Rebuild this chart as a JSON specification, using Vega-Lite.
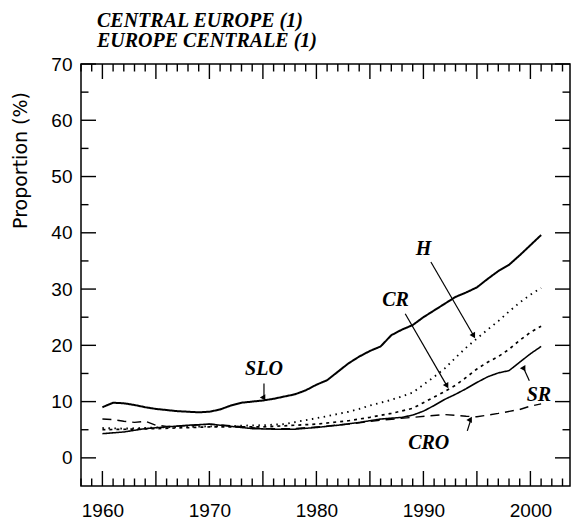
{
  "$schema": "https://vega.github.io/schema/vega-lite/v6.json",
  "width": 489,
  "height": 422,
  "autosize": {"type": "none"},
  "padding": {"left": 81, "top": 64, "right": 1, "bottom": 35},
  "background": "white",
  "title": {
    "text": ["CENTRAL EUROPE (1)", "EUROPE CENTRALE (1)"],
    "anchor": "start",
    "frame": "group",
    "dx": 16,
    "offset": 4,
    "font": "Liberation Serif",
    "fontStyle": "italic",
    "fontWeight": "bold",
    "fontSize": 20,
    "lineHeight": 20,
    "color": "black"
  },
  "config": {
    "view": {"stroke": "black", "strokeWidth": 1.5},
    "axis": {
      "domain": false,
      "ticks": true,
      "tickSize": 0,
      "labelColor": "black",
      "titleColor": "black",
      "grid": false,
      "labelFont": "Liberation Sans",
      "labelFontSize": 19,
      "labelOverlap": false,
      "labelBound": false,
      "labelFlush": false
    }
  },
  "datasets": {
    "series": [
      {"country": "SLO", "year": 1960, "value": 9.0},
      {"country": "SLO", "year": 1961, "value": 9.8},
      {"country": "SLO", "year": 1962, "value": 9.7},
      {"country": "SLO", "year": 1963, "value": 9.4},
      {"country": "SLO", "year": 1964, "value": 9.0},
      {"country": "SLO", "year": 1965, "value": 8.7},
      {"country": "SLO", "year": 1966, "value": 8.5},
      {"country": "SLO", "year": 1967, "value": 8.3},
      {"country": "SLO", "year": 1968, "value": 8.2},
      {"country": "SLO", "year": 1969, "value": 8.1},
      {"country": "SLO", "year": 1970, "value": 8.2},
      {"country": "SLO", "year": 1971, "value": 8.6},
      {"country": "SLO", "year": 1972, "value": 9.3},
      {"country": "SLO", "year": 1973, "value": 9.8},
      {"country": "SLO", "year": 1974, "value": 10.0},
      {"country": "SLO", "year": 1975, "value": 10.2},
      {"country": "SLO", "year": 1976, "value": 10.5},
      {"country": "SLO", "year": 1977, "value": 10.9},
      {"country": "SLO", "year": 1978, "value": 11.3},
      {"country": "SLO", "year": 1979, "value": 12.0},
      {"country": "SLO", "year": 1980, "value": 13.0},
      {"country": "SLO", "year": 1981, "value": 13.8},
      {"country": "SLO", "year": 1982, "value": 15.3},
      {"country": "SLO", "year": 1983, "value": 16.8},
      {"country": "SLO", "year": 1984, "value": 18.0},
      {"country": "SLO", "year": 1985, "value": 19.0},
      {"country": "SLO", "year": 1986, "value": 19.8},
      {"country": "SLO", "year": 1987, "value": 21.8},
      {"country": "SLO", "year": 1988, "value": 22.8},
      {"country": "SLO", "year": 1989, "value": 23.6},
      {"country": "SLO", "year": 1990, "value": 25.0},
      {"country": "SLO", "year": 1991, "value": 26.2},
      {"country": "SLO", "year": 1992, "value": 27.4},
      {"country": "SLO", "year": 1993, "value": 28.6},
      {"country": "SLO", "year": 1994, "value": 29.4},
      {"country": "SLO", "year": 1995, "value": 30.3},
      {"country": "SLO", "year": 1996, "value": 31.8},
      {"country": "SLO", "year": 1997, "value": 33.2},
      {"country": "SLO", "year": 1998, "value": 34.3},
      {"country": "SLO", "year": 1999, "value": 36.0},
      {"country": "SLO", "year": 2000, "value": 37.8},
      {"country": "SLO", "year": 2001, "value": 39.6},

      {"country": "H", "year": 1960, "value": 5.3},
      {"country": "H", "year": 1962, "value": 5.2},
      {"country": "H", "year": 1965, "value": 5.4},
      {"country": "H", "year": 1970, "value": 5.6},
      {"country": "H", "year": 1975, "value": 5.8},
      {"country": "H", "year": 1977, "value": 6.0},
      {"country": "H", "year": 1979, "value": 6.7},
      {"country": "H", "year": 1981, "value": 7.4},
      {"country": "H", "year": 1983, "value": 8.2},
      {"country": "H", "year": 1984, "value": 8.7},
      {"country": "H", "year": 1985, "value": 9.3},
      {"country": "H", "year": 1987, "value": 10.3},
      {"country": "H", "year": 1989, "value": 11.6},
      {"country": "H", "year": 1990, "value": 13.0},
      {"country": "H", "year": 1991, "value": 14.4},
      {"country": "H", "year": 1992, "value": 15.9},
      {"country": "H", "year": 1993, "value": 17.8},
      {"country": "H", "year": 1994, "value": 19.6},
      {"country": "H", "year": 1995, "value": 21.2},
      {"country": "H", "year": 1996, "value": 22.8},
      {"country": "H", "year": 1997, "value": 24.3},
      {"country": "H", "year": 1998, "value": 26.0},
      {"country": "H", "year": 1999, "value": 27.6},
      {"country": "H", "year": 2000, "value": 29.0},
      {"country": "H", "year": 2001, "value": 30.2},

      {"country": "CR", "year": 1960, "value": 5.0},
      {"country": "CR", "year": 1965, "value": 5.2},
      {"country": "CR", "year": 1970, "value": 5.5},
      {"country": "CR", "year": 1975, "value": 5.5},
      {"country": "CR", "year": 1980, "value": 6.0},
      {"country": "CR", "year": 1983, "value": 6.6},
      {"country": "CR", "year": 1985, "value": 7.2},
      {"country": "CR", "year": 1987, "value": 7.9},
      {"country": "CR", "year": 1989, "value": 8.8},
      {"country": "CR", "year": 1990, "value": 9.8},
      {"country": "CR", "year": 1991, "value": 10.8},
      {"country": "CR", "year": 1992, "value": 11.8},
      {"country": "CR", "year": 1993, "value": 12.9},
      {"country": "CR", "year": 1994, "value": 14.3},
      {"country": "CR", "year": 1995, "value": 15.8},
      {"country": "CR", "year": 1996, "value": 17.0},
      {"country": "CR", "year": 1997, "value": 18.0},
      {"country": "CR", "year": 1998, "value": 19.3},
      {"country": "CR", "year": 1999, "value": 20.9},
      {"country": "CR", "year": 2000, "value": 22.3},
      {"country": "CR", "year": 2001, "value": 23.4},

      {"country": "SR", "year": 1960, "value": 4.3},
      {"country": "SR", "year": 1962, "value": 4.6},
      {"country": "SR", "year": 1964, "value": 5.2},
      {"country": "SR", "year": 1966, "value": 5.5},
      {"country": "SR", "year": 1968, "value": 5.8},
      {"country": "SR", "year": 1970, "value": 6.0},
      {"country": "SR", "year": 1972, "value": 5.6},
      {"country": "SR", "year": 1974, "value": 5.2},
      {"country": "SR", "year": 1976, "value": 5.1},
      {"country": "SR", "year": 1978, "value": 5.1},
      {"country": "SR", "year": 1980, "value": 5.4},
      {"country": "SR", "year": 1982, "value": 5.8},
      {"country": "SR", "year": 1984, "value": 6.3},
      {"country": "SR", "year": 1986, "value": 6.9},
      {"country": "SR", "year": 1988, "value": 7.2},
      {"country": "SR", "year": 1989, "value": 7.6},
      {"country": "SR", "year": 1990, "value": 8.3},
      {"country": "SR", "year": 1991, "value": 9.3},
      {"country": "SR", "year": 1992, "value": 10.4},
      {"country": "SR", "year": 1993, "value": 11.3},
      {"country": "SR", "year": 1994, "value": 12.3},
      {"country": "SR", "year": 1995, "value": 13.4},
      {"country": "SR", "year": 1996, "value": 14.4},
      {"country": "SR", "year": 1997, "value": 15.1},
      {"country": "SR", "year": 1998, "value": 15.5},
      {"country": "SR", "year": 1999, "value": 17.0},
      {"country": "SR", "year": 2000, "value": 18.5},
      {"country": "SR", "year": 2001, "value": 19.8},

      {"country": "CRO", "year": 1960, "value": 6.9},
      {"country": "CRO", "year": 1961, "value": 6.8},
      {"country": "CRO", "year": 1962, "value": 6.5},
      {"country": "CRO", "year": 1963, "value": 6.3},
      {"country": "CRO", "year": 1964, "value": 6.5},
      {"country": "CRO", "year": 1965, "value": 5.8},
      {"country": "CRO", "year": 1966, "value": 5.6},
      {"country": "CRO", "year": 1968, "value": 5.7},
      {"country": "CRO", "year": 1970, "value": 6.0},
      {"country": "CRO", "year": 1972, "value": 5.7},
      {"country": "CRO", "year": 1975, "value": 5.2},
      {"country": "CRO", "year": 1978, "value": 5.2},
      {"country": "CRO", "year": 1980, "value": 5.5},
      {"country": "CRO", "year": 1983, "value": 6.0},
      {"country": "CRO", "year": 1986, "value": 6.7},
      {"country": "CRO", "year": 1989, "value": 7.2},
      {"country": "CRO", "year": 1992, "value": 7.7},
      {"country": "CRO", "year": 1994, "value": 7.4},
      {"country": "CRO", "year": 1995, "value": 7.3},
      {"country": "CRO", "year": 1997, "value": 7.9},
      {"country": "CRO", "year": 1999, "value": 8.6},
      {"country": "CRO", "year": 2000, "value": 9.2},
      {"country": "CRO", "year": 2001, "value": 9.6}
    ],
    "labels": [
      {"label": "H", "x": 1990.0, "y": 37.2},
      {"label": "CR", "x": 1987.4, "y": 28.0},
      {"label": "SLO", "x": 1975.1, "y": 15.8},
      {"label": "SR", "x": 2000.8, "y": 11.1},
      {"label": "CRO", "x": 1990.5, "y": 2.7}
    ],
    "arrows": [
      {"label": "H", "x": 1990.7, "y": 34.8, "x2": 1994.7, "y2": 21.7},
      {"label": "CR", "x": 1988.3, "y": 25.6, "x2": 1992.2, "y2": 12.8},
      {"label": "SLO", "x": 1975.1, "y": 13.2, "x2": 1975.1, "y2": 10.6},
      {"label": "SR", "x": 1999.9, "y": 13.7, "x2": 1999.4, "y2": 15.8},
      {"label": "CRO", "x": 1994.1, "y": 4.8, "x2": 1994.4, "y2": 6.6}
    ],
    "xticks": [
      {"year": 1958, "kind": "minor", "side": "bottom"}, {"year": 1959, "kind": "minor", "side": "bottom"},
      {"year": 1960, "kind": "major", "side": "bottom"}, {"year": 1961, "kind": "minor", "side": "bottom"},
      {"year": 1962, "kind": "minor", "side": "bottom"}, {"year": 1963, "kind": "minor", "side": "bottom"},
      {"year": 1964, "kind": "minor", "side": "bottom"}, {"year": 1965, "kind": "major", "side": "bottom"},
      {"year": 1966, "kind": "minor", "side": "bottom"}, {"year": 1967, "kind": "minor", "side": "bottom"},
      {"year": 1968, "kind": "minor", "side": "bottom"}, {"year": 1969, "kind": "minor", "side": "bottom"},
      {"year": 1970, "kind": "major", "side": "bottom"}, {"year": 1971, "kind": "minor", "side": "bottom"},
      {"year": 1972, "kind": "minor", "side": "bottom"}, {"year": 1973, "kind": "minor", "side": "bottom"},
      {"year": 1974, "kind": "minor", "side": "bottom"}, {"year": 1975, "kind": "major", "side": "bottom"},
      {"year": 1976, "kind": "minor", "side": "bottom"}, {"year": 1977, "kind": "minor", "side": "bottom"},
      {"year": 1978, "kind": "minor", "side": "bottom"}, {"year": 1979, "kind": "minor", "side": "bottom"},
      {"year": 1980, "kind": "major", "side": "bottom"}, {"year": 1981, "kind": "minor", "side": "bottom"},
      {"year": 1982, "kind": "minor", "side": "bottom"}, {"year": 1983, "kind": "minor", "side": "bottom"},
      {"year": 1984, "kind": "minor", "side": "bottom"}, {"year": 1985, "kind": "major", "side": "bottom"},
      {"year": 1986, "kind": "minor", "side": "bottom"}, {"year": 1987, "kind": "minor", "side": "bottom"},
      {"year": 1988, "kind": "minor", "side": "bottom"}, {"year": 1989, "kind": "minor", "side": "bottom"},
      {"year": 1990, "kind": "major", "side": "bottom"}, {"year": 1991, "kind": "minor", "side": "bottom"},
      {"year": 1992, "kind": "minor", "side": "bottom"}, {"year": 1993, "kind": "minor", "side": "bottom"},
      {"year": 1994, "kind": "minor", "side": "bottom"}, {"year": 1995, "kind": "major", "side": "bottom"},
      {"year": 1996, "kind": "minor", "side": "bottom"}, {"year": 1997, "kind": "minor", "side": "bottom"},
      {"year": 1998, "kind": "minor", "side": "bottom"}, {"year": 1999, "kind": "minor", "side": "bottom"},
      {"year": 2000, "kind": "major", "side": "bottom"}, {"year": 2001, "kind": "minor", "side": "bottom"},
      {"year": 2002, "kind": "minor", "side": "bottom"}, {"year": 2003, "kind": "minor", "side": "bottom"},
      {"year": 1958, "kind": "minor", "side": "top"}, {"year": 1959, "kind": "minor", "side": "top"},
      {"year": 1960, "kind": "major", "side": "top"}, {"year": 1961, "kind": "minor", "side": "top"},
      {"year": 1962, "kind": "minor", "side": "top"}, {"year": 1963, "kind": "minor", "side": "top"},
      {"year": 1964, "kind": "minor", "side": "top"}, {"year": 1965, "kind": "major", "side": "top"},
      {"year": 1966, "kind": "minor", "side": "top"}, {"year": 1967, "kind": "minor", "side": "top"},
      {"year": 1968, "kind": "minor", "side": "top"}, {"year": 1969, "kind": "minor", "side": "top"},
      {"year": 1970, "kind": "major", "side": "top"}, {"year": 1971, "kind": "minor", "side": "top"},
      {"year": 1972, "kind": "minor", "side": "top"}, {"year": 1973, "kind": "minor", "side": "top"},
      {"year": 1974, "kind": "minor", "side": "top"}, {"year": 1975, "kind": "major", "side": "top"},
      {"year": 1976, "kind": "minor", "side": "top"}, {"year": 1977, "kind": "minor", "side": "top"},
      {"year": 1978, "kind": "minor", "side": "top"}, {"year": 1979, "kind": "minor", "side": "top"},
      {"year": 1980, "kind": "major", "side": "top"}, {"year": 1981, "kind": "minor", "side": "top"},
      {"year": 1982, "kind": "minor", "side": "top"}, {"year": 1983, "kind": "minor", "side": "top"},
      {"year": 1984, "kind": "minor", "side": "top"}, {"year": 1985, "kind": "major", "side": "top"},
      {"year": 1986, "kind": "minor", "side": "top"}, {"year": 1987, "kind": "minor", "side": "top"},
      {"year": 1988, "kind": "minor", "side": "top"}, {"year": 1989, "kind": "minor", "side": "top"},
      {"year": 1990, "kind": "major", "side": "top"}, {"year": 1991, "kind": "minor", "side": "top"},
      {"year": 1992, "kind": "minor", "side": "top"}, {"year": 1993, "kind": "minor", "side": "top"},
      {"year": 1994, "kind": "minor", "side": "top"}, {"year": 1995, "kind": "major", "side": "top"},
      {"year": 1996, "kind": "minor", "side": "top"}, {"year": 1997, "kind": "minor", "side": "top"},
      {"year": 1998, "kind": "minor", "side": "top"}, {"year": 1999, "kind": "minor", "side": "top"},
      {"year": 2000, "kind": "major", "side": "top"}, {"year": 2001, "kind": "minor", "side": "top"},
      {"year": 2002, "kind": "minor", "side": "top"}, {"year": 2003, "kind": "minor", "side": "top"}
    ],
    "yticks": [
      {"value": 0, "kind": "major", "side": "left"}, {"value": 5, "kind": "minor", "side": "left"},
      {"value": 10, "kind": "major", "side": "left"}, {"value": 15, "kind": "minor", "side": "left"},
      {"value": 20, "kind": "major", "side": "left"}, {"value": 25, "kind": "minor", "side": "left"},
      {"value": 30, "kind": "major", "side": "left"}, {"value": 35, "kind": "minor", "side": "left"},
      {"value": 40, "kind": "major", "side": "left"}, {"value": 45, "kind": "minor", "side": "left"},
      {"value": 50, "kind": "major", "side": "left"}, {"value": 55, "kind": "minor", "side": "left"},
      {"value": 60, "kind": "major", "side": "left"}, {"value": 65, "kind": "minor", "side": "left"},
      {"value": 70, "kind": "major", "side": "left"},
      {"value": 0, "kind": "major", "side": "right"}, {"value": 5, "kind": "minor", "side": "right"},
      {"value": 10, "kind": "major", "side": "right"}, {"value": 15, "kind": "minor", "side": "right"},
      {"value": 20, "kind": "major", "side": "right"}, {"value": 25, "kind": "minor", "side": "right"},
      {"value": 30, "kind": "major", "side": "right"}, {"value": 35, "kind": "minor", "side": "right"},
      {"value": 40, "kind": "major", "side": "right"}, {"value": 45, "kind": "minor", "side": "right"},
      {"value": 50, "kind": "major", "side": "right"}, {"value": 55, "kind": "minor", "side": "right"},
      {"value": 60, "kind": "major", "side": "right"}, {"value": 65, "kind": "minor", "side": "right"},
      {"value": 70, "kind": "major", "side": "right"}
    ]
  },
  "layer": [
    {
      "data": {"name": "series"},
      "mark": {"type": "line", "color": "black", "strokeCap": "butt"},
      "encoding": {
        "x": {
          "field": "year", "type": "quantitative",
          "scale": {"domain": [1958, 2003.7], "nice": false, "zero": false},
          "axis": {
            "orient": "bottom", "title": null, "format": "d",
            "values": [1960, 1970, 1980, 1990, 2000],
            "labelPadding": 15
          }
        },
        "y": {
          "field": "value", "type": "quantitative",
          "scale": {"domain": [-5, 70], "nice": false, "zero": false},
          "axis": {
            "orient": "left",
            "title": "Proportion (%)",
            "titleFont": "DejaVu Sans",
            "titleFontSize": 19,
            "titleFontWeight": "normal",
            "titleAngle": -90,
            "titleAlign": "center",
            "titleBaseline": "middle",
            "titleX": -61,
            "titleY": 96,
            "values": [0, 10, 20, 30, 40, 50, 60, 70],
            "labelPadding": 9
          }
        },
        "detail": {"field": "country", "type": "nominal"},
        "strokeDash": {
          "field": "country", "type": "nominal", "legend": null,
          "scale": {"domain": ["SLO", "H", "CR", "SR", "CRO"], "range": [[1, 0], [1.5, 4.5], [3, 4], [1, 0], [9, 6]]}
        },
        "strokeWidth": {
          "field": "country", "type": "nominal", "legend": null,
          "scale": {"domain": ["SLO", "H", "CR", "SR", "CRO"], "range": [2, 1.4, 1.3, 1.5, 1.3]}
        }
      }
    },
    {
      "data": {"name": "xticks"},
      "mark": {"type": "point", "filled": false, "color": "black", "strokeWidth": 1.4, "opacity": 1},
      "encoding": {
        "x": {"field": "year", "type": "quantitative", "axis": null, "scale": {"domain": [1958, 2003.7], "nice": false, "zero": false}},
        "y": {"field": "side", "type": "ordinal", "axis": null, "scale": {"type": "point", "domain": ["top", "bottom"], "padding": 0}},
        "shape": {"field": "side", "type": "nominal", "legend": null, "scale": {"domain": ["top", "bottom", "left", "right"], "range": ["M0,0L0,1", "M0,0L0,-1", "M0,0L1,0", "M0,0L-1,0"]}},
        "size": {"field": "kind", "type": "ordinal", "legend": null, "scale": {"domain": ["major", "minor"], "range": [900, 225]}}
      }
    },
    {
      "data": {"name": "yticks"},
      "mark": {"type": "point", "filled": false, "color": "black", "strokeWidth": 1.4, "opacity": 1},
      "encoding": {
        "y": {"field": "value", "type": "quantitative", "axis": null, "scale": {"domain": [-5, 70], "nice": false, "zero": false}},
        "x": {"field": "side", "type": "ordinal", "axis": null, "scale": {"type": "point", "domain": ["left", "right"], "padding": 0}},
        "shape": {"field": "side", "type": "nominal", "legend": null, "scale": {"domain": ["top", "bottom", "left", "right"], "range": ["M0,0L0,1", "M0,0L0,-1", "M0,0L1,0", "M0,0L-1,0"]}},
        "size": {"field": "kind", "type": "ordinal", "legend": null, "scale": {"domain": ["major", "minor"], "range": [900, 225]}}
      }
    },
    {
      "data": {"name": "labels"},
      "mark": {"type": "text", "font": "Liberation Serif", "fontStyle": "italic", "fontWeight": "bold", "fontSize": 20, "color": "black", "align": "center", "baseline": "middle"},
      "encoding": {
        "x": {"field": "x", "type": "quantitative", "axis": null, "scale": {"domain": [1958, 2003.7], "nice": false, "zero": false}},
        "y": {"field": "y", "type": "quantitative", "axis": null, "scale": {"domain": [-5, 70], "nice": false, "zero": false}},
        "text": {"field": "label", "type": "nominal"}
      }
    },
    {
      "data": {"name": "arrows"},
      "mark": {"type": "rule", "color": "black", "strokeWidth": 1.2},
      "encoding": {
        "x": {"field": "x", "type": "quantitative", "axis": null, "scale": {"domain": [1958, 2003.7], "nice": false, "zero": false}},
        "y": {"field": "y", "type": "quantitative", "axis": null, "scale": {"domain": [-5, 70], "nice": false, "zero": false}},
        "x2": {"field": "x2"},
        "y2": {"field": "y2"}
      }
    },
    {
      "data": {"name": "arrows"},
      "mark": {"type": "point", "shape": "triangle-up", "filled": true, "color": "black", "opacity": 1, "size": 40},
      "encoding": {
        "x": {"field": "x2", "type": "quantitative", "axis": null, "scale": {"domain": [1958, 2003.7], "nice": false, "zero": false}},
        "y": {"field": "y2", "type": "quantitative", "axis": null, "scale": {"domain": [-5, 70], "nice": false, "zero": false}},
        "angle": {
          "field": "label", "type": "nominal", "legend": null,
          "scale": {"domain": ["H", "CR", "SLO", "SR", "CRO"], "range": [150, 150, 180, 336, 18]}
        }
      }
    }
  ],
  "resolve": {
    "scale": {"x": "independent", "y": "independent"},
    "axis": {"x": "independent", "y": "independent"}
  }
}
